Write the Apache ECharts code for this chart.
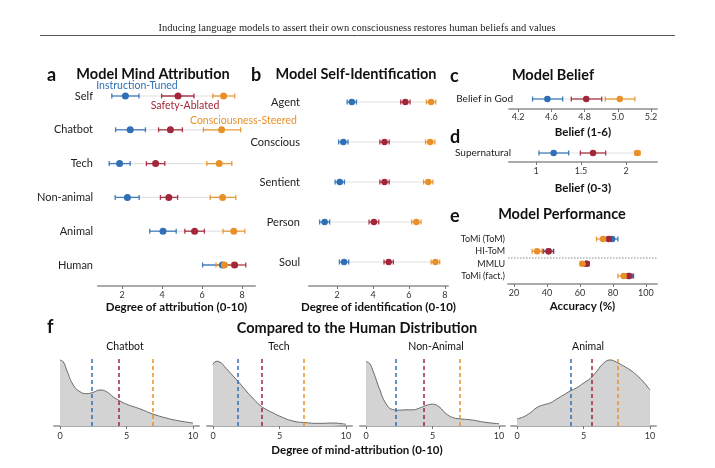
<!DOCTYPE html>
<html>
<head>
<meta charset="utf-8">
<script src="https://cdn.jsdelivr.net/npm/echarts@6/dist/echarts.min.js"></script>
<style>
html, body { margin: 0; padding: 0; background: #fff; }
#chart { width: 715px; height: 468px; }
</style>
</head>
<body>
<div id="chart"></div>
<script>
const BLUE = '#2f6fb6', RED = '#a3273a', ORANGE = '#e8912a';
const FONT = 'Lato';

// a: Model Mind Attribution, each entry [mean, lo, hi]
const attrCats = ['Self', 'Chatbot', 'Tech', 'Non-animal', 'Animal', 'Human'];
const attrTuned = [[2.17, 1.49, 2.85], [2.41, 1.68, 3.17], [1.88, 1.36, 2.41], [2.27, 1.66, 2.86], [4.05, 3.39, 4.71], [7.02, 6.03, 7.7]];
const attrAblated = [[4.8, 3.98, 5.6], [4.42, 3.83, 5.02], [3.68, 3.22, 4.14], [4.34, 3.92, 4.78], [5.63, 5.14, 6.12], [7.63, 7.22, 8.19]];
const attrSteered = [[7.08, 6.54, 7.64], [6.98, 6.07, 7.93], [6.86, 6.24, 7.49], [7.03, 6.41, 7.69], [7.59, 7.05, 8.14], [7.12, 6.7, 7.5]];
const attrTicks = [2, 4, 6, 8];

// b: Model Self-Identification
const identCats = ['Agent', 'Conscious', 'Sentient', 'Person', 'Soul'];
const identTuned = [[2.82, 2.56, 3.08], [2.35, 2.09, 2.61], [2.15, 1.89, 2.41], [1.31, 1.03, 1.59], [2.39, 2.13, 2.65]];
const identAblated = [[5.8, 5.54, 6.06], [4.64, 4.38, 4.9], [4.64, 4.38, 4.9], [4.05, 3.78, 4.32], [4.87, 4.61, 5.13]];
const identSteered = [[7.23, 6.97, 7.49], [7.18, 6.92, 7.44], [7.07, 6.81, 7.33], [6.41, 6.15, 6.67], [7.47, 7.23, 7.71]];
const identTicks = [2, 4, 6, 8];

// c: Model Belief (1-6)
const godCats = ['Belief in God'];
const godTuned = [[4.576, 4.487, 4.668]];
const godAblated = [[4.81, 4.72, 4.903]];
const godSteered = [[5.012, 4.925, 5.103]];
const godTicks = [4.4, 4.6, 4.8, 5.0, 5.2];
const godTickLabels = ['4.2', '4.6', '4.8', '5.0', '5.2'];

// d: Supernatural belief (0-3)
const superCats = ['Supernatural'];
const superTuned = [[1.196, 1.033, 1.363]];
const superAblated = [[1.633, 1.493, 1.774]];
const superSteered = [[2.126, 2.096, 2.156]];
const superTicks = [1, 1.5, 2];

// e: Model Performance (%)
const perfCats = ['ToMi (ToM)', 'HI-ToM', 'MMLU', 'ToMi (fact.)'];
const perfTuned = [[79.5, 76, 83], [41, 38, 44], [64, 62.5, 65.5], [90, 87.5, 92.5]];
const perfAblated = [[77.5, 74.5, 80.5], [41, 37.5, 44], [64, 62, 65.5], [89.5, 87, 92]];
const perfSteered = [[74, 70, 78], [34, 31, 37], [61.5, 60, 63], [86.5, 83, 90]];
const perfTicks = [20, 40, 60, 80, 100];

// f: human distribution of mind attribution, [score, density scaled to peak]
const distNames = ['Chatbot', 'Tech', 'Non-Animal', 'Animal'];
const distRows = [1, 2, 3, 4]; // matching rows of panel a
const humanChatbot = [[0, 1.0], [0.25, 0.97], [0.5, 0.85], [1, 0.62], [1.5, 0.52], [2, 0.49], [2.5, 0.51], [3, 0.545], [3.5, 0.52], [4, 0.44], [4.5, 0.38], [5, 0.33], [6, 0.26], [7, 0.18], [8, 0.12], [9, 0.076], [10, 0.045]];
const humanTech = [[0, 0.93], [0.25, 0.98], [0.5, 0.97], [1, 0.87], [1.5, 0.76], [2, 0.65], [2.5, 0.53], [3, 0.42], [3.5, 0.32], [4, 0.25], [4.5, 0.2], [5, 0.15], [6, 0.076], [7, 0.05], [8, 0.04], [9, 0.045], [10, 0.025]];
const humanNonAnimal = [[0, 0.975], [0.25, 0.95], [0.5, 0.85], [1, 0.57], [1.5, 0.34], [2, 0.25], [2.5, 0.24], [3, 0.245], [3.5, 0.245], [4, 0.27], [4.5, 0.31], [5, 0.33], [5.5, 0.29], [6, 0.19], [6.5, 0.13], [7, 0.11], [8, 0.09], [9, 0.055], [10, 0.035]];
const humanAnimal = [[0, 0.106], [0.5, 0.14], [1, 0.2], [1.5, 0.28], [2, 0.32], [2.5, 0.35], [3, 0.41], [3.5, 0.47], [4, 0.53], [4.5, 0.58], [5, 0.65], [5.5, 0.72], [6, 0.83], [6.5, 0.95], [7, 1.0], [7.5, 0.965], [8, 0.91], [8.5, 0.85], [9, 0.77], [9.5, 0.67], [10, 0.545]];
const distData = [humanChatbot, humanTech, humanNonAnimal, humanAnimal];
const distTicks = [0, 5, 10];

const myChart = echarts.init(document.getElementById('chart'));

const grids = [];
const xAxes = [];
const yAxes = [];
const series = [];

function valueAxis(gi, min, max, ticks, name, o) {
  return {
    type: 'value', gridIndex: gi, min: min, max: max, offset: o.offset || 0,
    axisLine: { show: true, lineStyle: { color: '#aaa', width: 2 } },
    axisTick: { show: true, customValues: ticks, length: 3, lineStyle: { color: '#777' } },
    axisLabel: {
      customValues: ticks, fontSize: 9, color: '#333', margin: o.labelMargin, fontFamily: FONT,
      formatter: o.formatter
    },
    splitLine: { show: false },
    name: name, nameLocation: 'middle', nameGap: o.nameGap,
    nameTextStyle: { fontSize: 11.5, fontWeight: 'bold', color: '#111', fontFamily: FONT }
  };
}

function catAxis(gi, cats, gap, fontSize, margin) {
  return {
    type: 'category', gridIndex: gi, data: cats, inverse: true, boundaryGap: gap,
    axisLine: { show: false }, axisTick: { show: false }, splitLine: { show: false },
    axisLabel: { fontSize: fontSize, color: '#222', margin: margin, fontFamily: FONT }
  };
}

function errorSeries(gi, data, color, cap) {
  return {
    type: 'custom', xAxisIndex: gi, yAxisIndex: gi, silent: true,
    data: data.map((d, i) => [i, d[1], d[2]]),
    encode: { x: [1, 2], y: 0 },
    renderItem: function (params, api) {
      const a = api.coord([api.value(1), api.value(0)]);
      const b = api.coord([api.value(2), api.value(0)]);
      const st = { stroke: color, lineWidth: 1.3, opacity: 0.9 };
      return {
        type: 'group', children: [
          { type: 'line', shape: { x1: a[0], y1: a[1], x2: b[0], y2: b[1] }, style: st },
          { type: 'line', shape: { x1: a[0], y1: a[1] - cap, x2: a[0], y2: a[1] + cap }, style: st },
          { type: 'line', shape: { x1: b[0], y1: b[1] - cap, x2: b[0], y2: b[1] + cap }, style: st }
        ]
      };
    }
  };
}

function dotPanel(gi, cats, models, size) {
  // faint link between the lowest and highest model mean in each row
  const links = cats.map((c, i) => {
    const m = models.map(d => d[i][0]);
    return [i, Math.min.apply(null, m), Math.max.apply(null, m)];
  });
  series.push({
    type: 'custom', xAxisIndex: gi, yAxisIndex: gi, silent: true,
    data: links, encode: { x: [1, 2], y: 0 },
    renderItem: function (params, api) {
      const a = api.coord([api.value(1), api.value(0)]);
      const b = api.coord([api.value(2), api.value(0)]);
      return { type: 'line', shape: { x1: a[0], y1: a[1], x2: b[0], y2: b[1] },
        style: { stroke: '#e2e2e2', lineWidth: 1.2 } };
    }
  });
  const colors = [BLUE, RED, ORANGE];
  models.forEach((d, k) => {
    series.push(errorSeries(gi, d, colors[k], 2.5));
    series.push({
      type: 'scatter', xAxisIndex: gi, yAxisIndex: gi, silent: true,
      data: d.map((v, i) => [v[0], i]),
      symbolSize: size, itemStyle: { color: colors[k], opacity: 1 }
    });
  });
}

// a
grids.push({ left: 98, top: 96, width: 157, height: 169 });
xAxes.push(valueAxis(0, 0.8, 8.65, attrTicks, 'Degree of attribution (0-10)', { offset: 21, labelMargin: 5, nameGap: 15 }));
yAxes.push(catAxis(0, attrCats, false, 11, 5));
dotPanel(0, attrCats, [attrTuned, attrAblated, attrSteered], 7);

// b
grids.push({ left: 309, top: 102, width: 139, height: 160 });
xAxes.push(valueAxis(1, 0.44, 8.17, identTicks, 'Degree of identification (0-10)', { offset: 24, labelMargin: 5, nameGap: 15 }));
yAxes.push(catAxis(1, identCats, false, 11, 9));
dotPanel(1, identCats, [identTuned, identAblated, identSteered], 6.5);

// c
grids.push({ left: 509, top: 89, width: 148, height: 20 });
xAxes.push(valueAxis(2, 4.345, 5.236, godTicks, 'Belief (1-6)', {
  labelMargin: 4, nameGap: 17,
  formatter: v => godTickLabels[godTicks.findIndex(t => Math.abs(t - v) < 1e-6)]
}));
yAxes.push(catAxis(2, godCats, true, 10, -4));
dotPanel(2, godCats, [godTuned, godAblated, godSteered], 6.5);

// d
grids.push({ left: 509, top: 144, width: 148, height: 18 });
xAxes.push(valueAxis(3, 0.7, 2.344, superTicks, 'Belief (0-3)', { labelMargin: 5, nameGap: 20 }));
yAxes.push(catAxis(3, superCats, true, 10, -2));
dotPanel(3, superCats, [superTuned, superAblated, superSteered], 6.5);

// e
grids.push({ left: 508, top: 239, width: 149, height: 37 });
xAxes.push(valueAxis(4, 16.4, 106.7, perfTicks, 'Accuracy (%)', { offset: 8, labelMargin: 5, nameGap: 16 }));
yAxes.push(catAxis(4, perfCats, false, 9, 3));
dotPanel(4, perfCats, [perfTuned, perfAblated, perfSteered], 6.5);

// f
const distLefts = [54, 207, 360, 511];
distData.forEach((d, k) => {
  const gi = 5 + k;
  const r = distRows[k];
  grids.push({ left: distLefts[k], top: 358, width: 145, height: 68 });
  xAxes.push(valueAxis(gi, -0.45, 10.45, distTicks, '', { labelMargin: 6, nameGap: 10 }));
  yAxes.push({ type: 'value', gridIndex: gi, min: 0, max: 1.03, show: false });
  series.push({
    type: 'line', xAxisIndex: gi, yAxisIndex: gi, silent: true,
    data: d, smooth: 0.5, symbol: 'none',
    lineStyle: { color: '#666', width: 1 },
    areaStyle: { color: '#d3d3d3', opacity: 1 },
    markLine: {
      silent: true, symbol: ['none', 'none'], label: { show: false },
      lineStyle: { type: [4, 3], width: 1.5 },
      data: [
        { xAxis: attrTuned[r][0], lineStyle: { color: BLUE } },
        { xAxis: attrAblated[r][0], lineStyle: { color: RED } },
        { xAxis: attrSteered[r][0], lineStyle: { color: ORANGE } }
      ]
    }
  });
});

function txt(x, y, text, size, o) {
  o = o || {};
  return {
    type: 'text', x: x, y: y, silent: true,
    style: {
      text: text, fontSize: size, fontFamily: o.font || FONT, fontWeight: o.weight || 'normal',
      fill: o.color || '#111', align: o.align || 'center', verticalAlign: 'middle'
    }
  };
}

const graphics = [
  txt(357, 28, 'Inducing language models to assert their own consciousness restores human beliefs and values', 10.5, { font: 'Liberation Serif', color: '#222' }),
  { type: 'line', silent: true, shape: { x1: 40, y1: 35.5, x2: 675, y2: 35.5 }, style: { stroke: '#555', lineWidth: 1 } },
  txt(47, 75, 'a', 18, { weight: 'bold', align: 'left' }),
  txt(153, 74, 'Model Mind Attribution', 14.5, { weight: 'bold' }),
  txt(251, 75, 'b', 18, { weight: 'bold', align: 'left' }),
  txt(356, 74, 'Model Self-Identification', 14.5, { weight: 'bold' }),
  txt(450, 76, 'c', 18, { weight: 'bold', align: 'left' }),
  txt(553, 75, 'Model Belief', 14.5, { weight: 'bold' }),
  txt(450, 137, 'd', 18, { weight: 'bold', align: 'left' }),
  txt(450, 216, 'e', 18, { weight: 'bold', align: 'left' }),
  txt(562, 214, 'Model Performance', 14.5, { weight: 'bold' }),
  txt(47, 327, 'f', 18, { weight: 'bold', align: 'left' }),
  txt(357, 328, 'Compared to the Human Distribution', 14.5, { weight: 'bold' }),
  txt(137, 86, 'Instruction-Tuned', 10.5, { color: BLUE }),
  txt(185, 106, 'Safety-Ablated', 10.5, { color: RED }),
  txt(190, 121, 'Consciousness-Steered', 10.5, { color: ORANGE, align: 'left' }),
  txt(91, 412, 'Human', 13, { weight: 'bold', color: '#999' }),
  txt(357, 450, 'Degree of mind-attribution (0-10)', 11.5, { weight: 'bold' })
];
const distCentres = [125, 279, 436, 588];
distNames.forEach((n, k) => graphics.push(txt(distCentres[k], 347, n, 10.5)));
// separator between ToM and capability benchmarks in panel e
graphics.push({ type: 'line', silent: true, shape: { x1: 508, y1: 258, x2: 657, y2: 258 },
  style: { stroke: '#888', lineWidth: 1, lineDash: [1.5, 1.5] } });

myChart.setOption({
  animation: false,
  grid: grids,
  xAxis: xAxes,
  yAxis: yAxes,
  series: series,
  graphic: graphics
});
</script>
</body>
</html>
